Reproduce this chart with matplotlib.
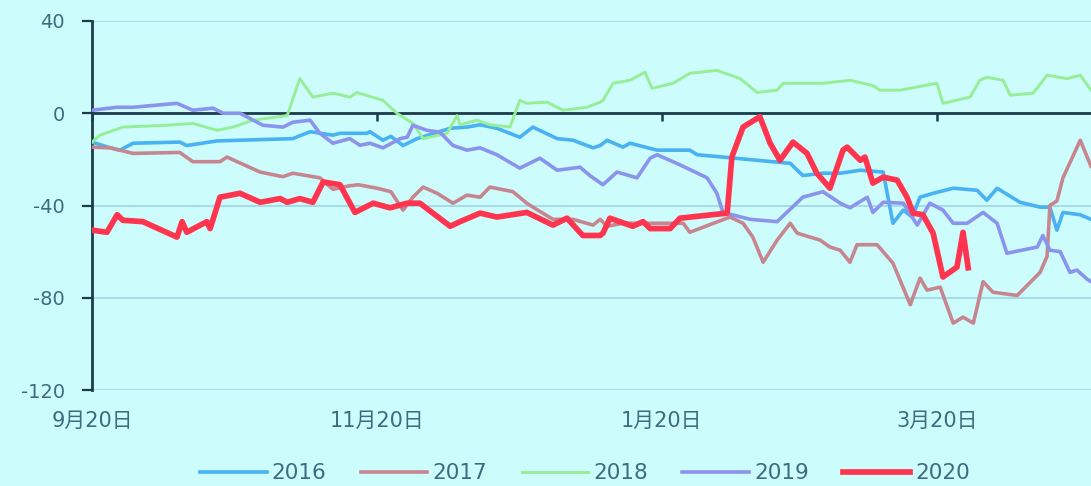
import matplotlib
matplotlib.use("Agg")
import matplotlib.pyplot as plt

# Days since Sep 20
tick_days = [0, 61, 122, 181]
tick_labels = ["9月20日", "11月20日", "1月20日", "3月20日"]
y_ticks = [40, 0, -40, -80, -120]
y_tick_labels = ["40", "0", "-40", "-80", "-120"]

x2016 = [0, 3.9, 6, 8.8, 18.8, 20.3, 26.8, 43, 46.7, 51.6, 53.1, 58.9, 59.5, 62.3, 64, 66.6,
         69.6, 76.7, 80.3, 83.1, 86.7, 91.6, 94.4, 99.6, 103, 107.3, 108.8, 110.3, 113.7, 115.2,
         121, 128, 129.6, 135.1, 142.4, 149.5, 152.2, 156.5, 160.2, 164.5, 169.4, 171.5, 173.7,
         175.6, 177.3, 180.1, 184.4, 189.5, 191.6, 193.8, 198.7, 203, 205.1, 206.6, 207.9, 211.6, 213.9]
y2016 = [-12.5, -15, -16, -13, -12.5, -14, -12, -11, -8, -9.5, -8.7, -8.7, -8, -11.7, -10, -14,
         -11, -6.5, -6, -5, -6.5, -10.4, -6, -11, -11.7, -15, -14, -11.7, -14.7, -13,
         -16, -16, -18, -19, -20.4, -21.7, -27, -26, -26, -24.7, -25.5, -47.7, -42,
         -45, -36.4, -34.7, -32.5, -33.4, -37.7, -32.5, -38.6, -40.7, -40.7, -50.7, -43, -44, -46]

x2017 = [0, 3.9, 8.8, 18.8, 21.6, 27.4, 28.9, 36, 40.9, 43, 48.8, 51.6, 55, 57, 61, 64, 66.6,
         68.7, 70.9, 73.9, 77.3, 80.3, 83.1, 85.2, 90.1, 93.1, 94.4, 98.7, 103, 107.3, 108.8,
         110.3, 113.7, 121, 126.6, 128, 136.6, 139.4, 141.5, 143.7, 146.7, 149.5, 151, 155.9,
         158, 160.2, 162.3, 163.8, 168.1, 171.5, 175.2, 177.3, 178.8, 181.6, 184.4, 186.5,
         188.7, 190.8, 192.9, 198.1, 203, 204.5, 205.1, 206.6, 207.9, 211.6, 213.9]
y2017 = [-14.7, -15, -17.4, -17, -21, -21, -19, -25.5, -27.5, -26, -28, -33, -31.5, -31, -32.5, -34, -42,
         -36.4, -32, -34.7, -39, -35.5, -36.4, -32, -34, -39, -40.7, -46, -46, -48.5, -46,
         -49, -47.7, -47.7, -47.7, -51.6, -45, -47.7, -53.7, -64.6, -55, -47.7, -52, -55,
         -58, -59.4, -64.6, -57, -57, -65, -83, -71.5, -76.7, -75.4, -91, -88.4,
         -91, -73, -77.6, -79, -69, -62, -40, -38, -28, -11.7, -23]

x2018 = [0, 1.7, 6.6, 16.1, 21.6, 26.8, 30.2, 34.5, 41.8, 44.5, 47.3, 51.6, 55.2, 56.7, 62.3,
         65.3, 68.7, 70.9, 76, 78.2, 78.8, 82.4, 85.2, 89.5, 91.6, 93.1, 97.4, 100.9, 106,
         108.8, 109.4, 111.6, 115.2, 118.4, 119.9, 124.4, 128, 133.8, 138.8, 142.4, 146.7,
         148, 156.5, 162.3, 167.2, 168.7, 173, 180.9, 182.2, 188, 190.1, 191.6, 195.1, 196.6,
         201.5, 204.5, 208.8, 211.6, 213.9]
y2018 = [-12.5, -9.5, -6, -5.2, -4.4, -7.4, -6, -3, -1, 15, 7, 8.7, 7, 9, 5.6,
         0, -4.4, -11, -8.7, -1, -5, -3, -5, -6, 5.6, 4.3, 4.8, 1.3, 2.6,
         4.8, 5.6, 13, 14.3, 17.8, 10.8, 13, 17.3, 18.6, 15, 9, 10,
         13, 13, 14.3, 12, 10, 10, 13, 4.3, 7, 14.3, 15.6, 14.3, 7.8,
         8.7, 16.5, 15, 16.5, 10]

x2019 = [0, 5.4, 8.8, 18.2, 21.6, 25.9, 28.1, 31.7, 36.6, 40.9, 43, 46.7, 48.8, 51.6, 55.2,
         57.4, 59.5, 62.3, 66, 67.5, 68.7, 71.7, 74.5, 77.3, 80.3, 83.1, 86.7, 91.6, 95.9,
         99.6, 104.5, 106.6, 109.4, 112.4, 116.7, 119.5, 121, 124.4, 127.4, 131.7, 133.8,
         135.1, 140.9, 146.7, 152.2, 156.5, 160.2, 162.3, 166, 167.2, 169.4, 173.7, 176.7,
         179.4, 182.2, 184.4, 187.4, 190.8, 193.8, 195.9, 202.4, 203.6, 205.1, 207.3, 209.4,
         210.9, 213.1, 213.9]
y2019 = [1.3, 2.6, 2.6, 4.3, 1.3, 2.2, 0, 0, -5.2, -6, -3.9, -3, -8.7, -13, -11,
         -13.9, -13, -15, -11, -10.4, -5.2, -7.4, -8.2, -14, -16, -15, -18, -23.8, -19.5,
         -24.7, -23.4, -27, -31, -25.5, -28, -19.5, -18, -21, -23.8, -28, -34.7,
         -43, -46, -47, -36.4, -34, -39, -41, -36.4, -43, -38.6, -39, -48.5,
         -39, -42, -47.7, -47.7, -43, -47.7, -60.7, -58, -53, -59.4, -60, -69,
         -68, -72, -73]

x2020 = [0, 3.2, 5.4, 6.6, 10.9, 18.2, 19.3, 20.3, 24.6, 25.3, 27.4, 31.7, 36, 40.3, 41.8,
         44.5, 47.3, 49.5, 53.1, 56.3, 60.2, 63.8, 67.5, 70.2, 76.7, 78.8, 83.1, 86.7, 93.1,
         98.7, 101.7, 105.1, 108.8, 109.4, 110.9, 115.8, 118, 119.5, 123.8, 125.9, 136, 137,
         139.4, 143, 145.2, 147.3, 150.1, 153.1, 155.2, 158, 160.8, 161.7, 164.5, 165.5,
         167.2, 169.4, 172.4, 174.5, 175.8, 177.9, 180.1, 182.2, 185.2, 186.5, 187.6]
y2020 = [-50.7, -51.6, -44, -46.4, -47, -53.7, -47, -51.6, -47, -50, -36.4, -34.7, -38.6, -37, -38.6,
         -37, -38.6, -29.8, -31, -43, -39, -41, -39, -39, -49, -47, -43.3, -45, -43,
         -48.5, -45.5, -53, -53, -52, -45.5, -49, -47, -50, -50, -45.5, -43.3, -19,
         -6, -1.5, -13, -20.4, -12.5, -17.4, -26, -32.5, -16, -14.7, -20.4, -19,
         -30.3, -27.7, -29, -36.4, -43.3, -44, -52, -71, -66.7, -51.6, -67]

series = [
    ("2016", x2016, y2016, "#48b2f2", 2.6),
    ("2017", x2017, y2017, "#c6868f", 2.6),
    ("2018", x2018, y2018, "#96ee96", 2.1),
    ("2019", x2019, y2019, "#8a94ec", 2.6),
    ("2020", x2020, y2020, "#ff3550", 4.1),
]

bg = "#cdfcfd"
dark = "#1c3c4c"
label_col = "#3f6b80"
grid_col = "#9fd5e6"

fig = plt.figure(figsize=(10.91, 4.86), dpi=100, facecolor=bg)
ax = fig.add_axes([0.0843, 0.1975, 0.9157, 0.7593], facecolor=bg)

for name, xs, ys, c, lw in series:
    ax.plot(xs, ys, color=c, lw=lw, label=name, solid_joinstyle="round", zorder=3)

ax.set_xlim(0, 213.9)
ax.set_ylim(-120, 40)
ax.set_yticks(y_ticks)
ax.set_yticklabels(y_tick_labels, fontsize=14, color=label_col, family="DejaVu Sans")
ax.yaxis.grid(True, color=grid_col, lw=1.2)
ax.set_axisbelow(True)
ax.tick_params(axis="y", length=7.5, width=1.6, color=dark, direction="out", pad=12)

for s in ["top", "right"]:
    ax.spines[s].set_visible(False)
ax.spines["left"].set_color(dark)
ax.spines["left"].set_linewidth(2)
ax.spines["bottom"].set_position(("data", 0))
ax.spines["bottom"].set_color(dark)
ax.spines["bottom"].set_linewidth(2)
ax.spines["bottom"].set_zorder(2.5)

ax.set_xticks(tick_days)
ax.set_xticklabels([])
ax.tick_params(axis="x", length=6, width=1.8, color=dark, direction="out")

sec = ax.secondary_xaxis("bottom")
sec.set_xticks(tick_days)
sec.set_xticklabels(tick_labels, fontsize=15, color=label_col,
                    family=["DejaVu Sans", "Noto Sans CJK SC"])
sec.spines["bottom"].set_visible(False)
sec.tick_params(length=0, pad=15)

leg = fig.legend(loc="center", bbox_to_anchor=(0.536, 0.026), ncol=5, frameon=False,
                 fontsize=15.5, handlelength=3.1, handletextpad=0.23, columnspacing=1.6)
for t in leg.get_texts():
    t.set_color(label_col)

fig.savefig("out.png", dpi=100, facecolor=bg)
